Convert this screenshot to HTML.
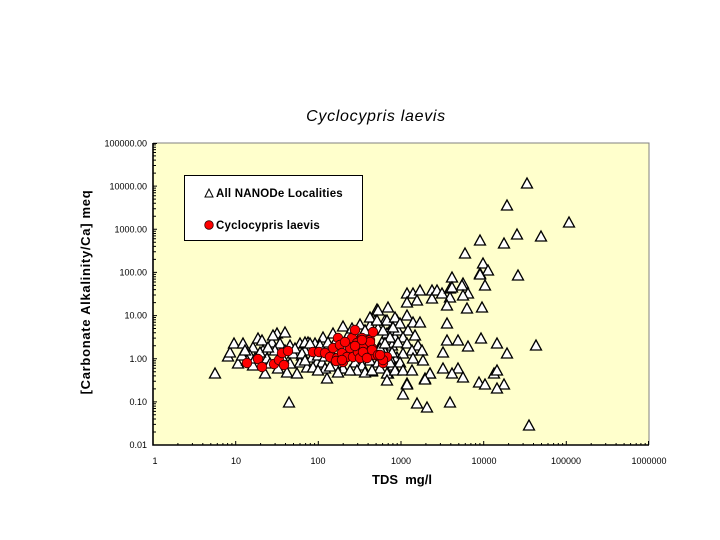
<!DOCTYPE html>
<html><head><meta charset="utf-8"><style>
html,body{margin:0;padding:0;background:#fff;}
svg{display:block;}
text{font-family:"Liberation Sans",Arial,sans-serif;}
</style></head><body>
<svg width="720" height="540" viewBox="0 0 720 540" xmlns="http://www.w3.org/2000/svg">
<defs>
<path id="t" d="M-5.5,5 L0,-5 L5.5,5 Z" fill="#fff" stroke="#000" stroke-width="1.3" stroke-linejoin="miter"/>
<circle id="c" r="4.8" fill="#ff0000" stroke="#300" stroke-width="0.8"/>
</defs>
<rect width="720" height="540" fill="#fff"/>
<text x="376" y="121" font-size="16" font-style="italic" text-anchor="middle" letter-spacing="0.7">Cyclocypris laevis</text>
<rect x="153" y="143" width="496" height="302" fill="#ffffcc"/>
<path d="M153,143 H649 V445" fill="none" stroke="#808080" stroke-width="1"/>
<path stroke="#000" stroke-width="1" fill="none" d="
M153,432h3M153,424.4h3M153,419h3M153,414.8h3M153,411.4h3M153,408.5h3M153,406.1h3M153,403.8h3
M153,388.9h3M153,381.3h3M153,375.9h3M153,371.7h3M153,368.3h3M153,365.4h3M153,363h3M153,360.7h3
M153,345.7h3M153,338.1h3M153,332.7h3M153,328.5h3M153,325.1h3M153,322.2h3M153,319.8h3M153,317.5h3
M153,302.6h3M153,295h3M153,289.6h3M153,285.4h3M153,282h3M153,279.1h3M153,276.7h3M153,274.4h3
M153,259.4h3M153,251.8h3M153,246.4h3M153,242.2h3M153,238.8h3M153,235.9h3M153,233.5h3M153,231.2h3
M153,216.3h3M153,208.7h3M153,203.3h3M153,199.1h3M153,195.7h3M153,192.8h3M153,190.4h3M153,188.1h3
M153,173.1h3M153,165.5h3M153,160.1h3M153,155.9h3M153,152.5h3M153,149.6h3M153,147.2h3M153,144.9h3
M153,401.9h4M153,358.7h4M153,315.6h4M153,272.4h4M153,229.3h4M153,186.1h4M153,143.5h4"/>
<path stroke="#000" stroke-width="1" fill="none" d="
M177.9,445v-2M192.4,445v-2M202.8,445v-2M210.8,445v-2M217.3,445v-2M222.9,445v-2M227.6,445v-2M231.9,445v-2
M260.6,445v-2M275.1,445v-2M285.5,445v-2M293.5,445v-2M300,445v-2M305.6,445v-2M310.3,445v-2M314.6,445v-2
M343.2,445v-2M357.7,445v-2M368.1,445v-2M376.1,445v-2M382.6,445v-2M388.2,445v-2M392.9,445v-2M397.2,445v-2
M425.9,445v-2M440.4,445v-2M450.8,445v-2M458.8,445v-2M465.3,445v-2M470.9,445v-2M475.6,445v-2M479.9,445v-2
M508.6,445v-2M523.1,445v-2M533.5,445v-2M541.5,445v-2M548,445v-2M553.6,445v-2M558.3,445v-2M562.6,445v-2
M591.2,445v-2M605.7,445v-2M616.1,445v-2M624.1,445v-2M630.6,445v-2M636.2,445v-2M640.9,445v-2M645.2,445v-2
M235.7,445v-4M318.3,445v-4M401,445v-4M483.7,445v-4M566.3,445v-4M648.5,445v-4"/>
<path d="M153,143 V445 H649" fill="none" stroke="#000" stroke-width="1.6"/>
<g font-size="9" text-anchor="end">
<text x="147" y="146.5">100000.00</text>
<text x="147" y="189.5">10000.00</text>
<text x="147" y="232.5">1000.00</text>
<text x="147" y="275.5">100.00</text>
<text x="147" y="318.5">10.00</text>
<text x="147" y="362">1.00</text>
<text x="147" y="405">0.10</text>
<text x="147" y="448">0.01</text>
</g>
<g font-size="9" text-anchor="middle">
<text x="155" y="464">1</text>
<text x="236" y="464">10</text>
<text x="318" y="464">100</text>
<text x="401" y="464">1000</text>
<text x="484" y="464">10000</text>
<text x="566" y="464">100000</text>
<text x="649" y="464">1000000</text>
</g>
<text x="402" y="484" font-size="13" font-weight="bold" text-anchor="middle" xml:space="preserve">TDS  mg/l</text>
<text transform="translate(90,292) rotate(-90)" font-size="13" font-weight="bold" text-anchor="middle" letter-spacing="0.7">[Carbonate Alkalinity/Ca] meq</text>
<g>
<use href="#t" x="215" y="373"/><use href="#t" x="289" y="402"/><use href="#t" x="228" y="356"/><use href="#t" x="230" y="352"/>
<use href="#t" x="234" y="343"/><use href="#t" x="243" y="343"/><use href="#t" x="238" y="363"/><use href="#t" x="253" y="347"/>
<use href="#t" x="258" y="338"/><use href="#t" x="262" y="340"/><use href="#t" x="250" y="355"/><use href="#t" x="247" y="360"/>
<use href="#t" x="253" y="365"/><use href="#t" x="265" y="373"/><use href="#t" x="263" y="350"/><use href="#t" x="267" y="358"/>
<use href="#t" x="272" y="342"/><use href="#t" x="277" y="333"/><use href="#t" x="285" y="332"/><use href="#t" x="273" y="335"/>
<use href="#t" x="280" y="343"/><use href="#t" x="285" y="350"/><use href="#t" x="290" y="345"/><use href="#t" x="293" y="353"/>
<use href="#t" x="300" y="343"/><use href="#t" x="302" y="355"/><use href="#t" x="300" y="362"/><use href="#t" x="287" y="372"/>
<use href="#t" x="297" y="373"/><use href="#t" x="307" y="367"/><use href="#t" x="312" y="357"/><use href="#t" x="308" y="342"/>
<use href="#t" x="315" y="343"/><use href="#t" x="317" y="362"/><use href="#t" x="270" y="363"/><use href="#t" x="290" y="363"/>
<use href="#t" x="255" y="358"/><use href="#t" x="242" y="355"/><use href="#t" x="327" y="378"/><use href="#t" x="343" y="368"/>
<use href="#t" x="260" y="352"/><use href="#t" x="275" y="350"/><use href="#t" x="283" y="358"/><use href="#t" x="295" y="348"/>
<use href="#t" x="278" y="368"/><use href="#t" x="245" y="350"/><use href="#t" x="268" y="347"/><use href="#t" x="305" y="350"/>
<use href="#t" x="372" y="371"/><use href="#t" x="343" y="326"/><use href="#t" x="377" y="309"/><use href="#t" x="388" y="307"/>
<use href="#t" x="375" y="320"/><use href="#t" x="385" y="320"/><use href="#t" x="397" y="320"/><use href="#t" x="378" y="328"/>
<use href="#t" x="390" y="330"/><use href="#t" x="323" y="337"/><use href="#t" x="305" y="342"/><use href="#t" x="310" y="343"/>
<use href="#t" x="333" y="333"/><use href="#t" x="365" y="330"/><use href="#t" x="302" y="353"/><use href="#t" x="305" y="360"/>
<use href="#t" x="313" y="367"/><use href="#t" x="322" y="362"/><use href="#t" x="325" y="368"/><use href="#t" x="343" y="368"/>
<use href="#t" x="388" y="373"/><use href="#t" x="393" y="365"/><use href="#t" x="397" y="357"/><use href="#t" x="392" y="345"/>
<use href="#t" x="395" y="337"/><use href="#t" x="387" y="333"/><use href="#t" x="382" y="342"/><use href="#t" x="385" y="352"/>
<use href="#t" x="390" y="358"/>
<use href="#t" x="320" y="345"/><use href="#t" x="330" y="350"/><use href="#t" x="335" y="342"/><use href="#t" x="345" y="345"/>
<use href="#t" x="350" y="355"/><use href="#t" x="355" y="362"/><use href="#t" x="360" y="350"/><use href="#t" x="365" y="345"/>
<use href="#t" x="358" y="340"/><use href="#t" x="348" y="335"/><use href="#t" x="370" y="360"/><use href="#t" x="378" y="362"/>
<use href="#t" x="362" y="365"/><use href="#t" x="335" y="365"/><use href="#t" x="318" y="355"/><use href="#t" x="325" y="356"/>
<use href="#t" x="340" y="357"/><use href="#t" x="352" y="348"/><use href="#t" x="368" y="352"/><use href="#t" x="380" y="348"/>
<use href="#t" x="357" y="370"/><use href="#t" x="350" y="370"/><use href="#t" x="365" y="372"/><use href="#t" x="330" y="366"/>
<use href="#t" x="338" y="372"/><use href="#t" x="318" y="370"/><use href="#t" x="380" y="368"/><use href="#t" x="352" y="328"/>
<use href="#t" x="360" y="324"/><use href="#t" x="370" y="325"/><use href="#t" x="328" y="342"/><use href="#t" x="398" y="330"/>
<use href="#t" x="407" y="293"/><use href="#t" x="413" y="293"/><use href="#t" x="420" y="290"/><use href="#t" x="432" y="290"/>
<use href="#t" x="417" y="300"/><use href="#t" x="432" y="298"/><use href="#t" x="407" y="302"/><use href="#t" x="378" y="310"/>
<use href="#t" x="370" y="317"/><use href="#t" x="377" y="320"/><use href="#t" x="387" y="320"/><use href="#t" x="395" y="317"/>
<use href="#t" x="407" y="315"/><use href="#t" x="413" y="322"/><use href="#t" x="420" y="322"/><use href="#t" x="400" y="323"/>
<use href="#t" x="365" y="330"/><use href="#t" x="393" y="327"/><use href="#t" x="383" y="330"/><use href="#t" x="408" y="330"/>
<use href="#t" x="415" y="335"/><use href="#t" x="403" y="337"/><use href="#t" x="390" y="337"/><use href="#t" x="398" y="342"/>
<use href="#t" x="407" y="343"/><use href="#t" x="418" y="345"/><use href="#t" x="385" y="343"/><use href="#t" x="412" y="350"/>
<use href="#t" x="422" y="350"/><use href="#t" x="403" y="353"/><use href="#t" x="392" y="352"/><use href="#t" x="413" y="358"/>
<use href="#t" x="400" y="362"/><use href="#t" x="390" y="362"/><use href="#t" x="423" y="360"/><use href="#t" x="372" y="370"/>
<use href="#t" x="387" y="373"/><use href="#t" x="395" y="370"/><use href="#t" x="403" y="370"/><use href="#t" x="412" y="370"/>
<use href="#t" x="425" y="378"/><use href="#t" x="430" y="373"/><use href="#t" x="407" y="383"/><use href="#t" x="387" y="380"/>
<use href="#t" x="483" y="263"/><use href="#t" x="480" y="273"/><use href="#t" x="488" y="270"/><use href="#t" x="518" y="275"/>
<use href="#t" x="452" y="277"/><use href="#t" x="463" y="283"/><use href="#t" x="485" y="285"/><use href="#t" x="437" y="290"/>
<use href="#t" x="442" y="293"/><use href="#t" x="450" y="288"/><use href="#t" x="450" y="297"/><use href="#t" x="462" y="285"/>
<use href="#t" x="468" y="293"/><use href="#t" x="447" y="305"/><use href="#t" x="467" y="308"/><use href="#t" x="482" y="307"/>
<use href="#t" x="447" y="323"/><use href="#t" x="447" y="340"/><use href="#t" x="458" y="340"/><use href="#t" x="468" y="346"/>
<use href="#t" x="481" y="338"/><use href="#t" x="497" y="343"/><use href="#t" x="507" y="353"/><use href="#t" x="443" y="352"/>
<use href="#t" x="443" y="368"/><use href="#t" x="458" y="368"/><use href="#t" x="452" y="373"/><use href="#t" x="463" y="377"/>
<use href="#t" x="430" y="373"/><use href="#t" x="425" y="379"/><use href="#t" x="407" y="384"/><use href="#t" x="403" y="394"/>
<use href="#t" x="417" y="403"/><use href="#t" x="427" y="407"/><use href="#t" x="450" y="402"/><use href="#t" x="479" y="382"/>
<use href="#t" x="485" y="384"/><use href="#t" x="494" y="373"/><use href="#t" x="497" y="370"/><use href="#t" x="504" y="384"/>
<use href="#t" x="497" y="388"/><use href="#t" x="536" y="345"/><use href="#t" x="529" y="425"/>
<use href="#t" x="527" y="183"/><use href="#t" x="507" y="205"/><use href="#t" x="569" y="222"/><use href="#t" x="517" y="234"/>
<use href="#t" x="541" y="236"/><use href="#t" x="480" y="240"/><use href="#t" x="504" y="243"/><use href="#t" x="465" y="253"/>
<use href="#t" x="480" y="274"/><use href="#t" x="452" y="287"/><use href="#t" x="463" y="295"/>
</g>
<g>
<use href="#c" x="247" y="363"/><use href="#c" x="258" y="359"/><use href="#c" x="262" y="367"/><use href="#c" x="274" y="364"/>
<use href="#c" x="279" y="360"/><use href="#c" x="284" y="365"/><use href="#c" x="282" y="353"/><use href="#c" x="288" y="351"/>
<use href="#c" x="313" y="352"/><use href="#c" x="319" y="352"/><use href="#c" x="325" y="353"/><use href="#c" x="330" y="357"/>
<use href="#c" x="333" y="348"/><use href="#c" x="337" y="358"/><use href="#c" x="338" y="338"/><use href="#c" x="340" y="345"/>
<use href="#c" x="342" y="353"/><use href="#c" x="343" y="362"/><use href="#c" x="347" y="357"/><use href="#c" x="350" y="348"/>
<use href="#c" x="352" y="338"/><use href="#c" x="355" y="330"/><use href="#c" x="353" y="357"/><use href="#c" x="357" y="343"/>
<use href="#c" x="358" y="352"/><use href="#c" x="360" y="358"/><use href="#c" x="362" y="338"/><use href="#c" x="363" y="348"/>
<use href="#c" x="367" y="357"/><use href="#c" x="370" y="340"/><use href="#c" x="372" y="348"/><use href="#c" x="373" y="332"/>
<use href="#c" x="375" y="355"/><use href="#c" x="380" y="357"/><use href="#c" x="383" y="363"/><use href="#c" x="387" y="357"/>
<use href="#c" x="370" y="342"/><use href="#c" x="362" y="340"/><use href="#c" x="372" y="350"/><use href="#c" x="363" y="352"/>
<use href="#c" x="378" y="355"/><use href="#c" x="383" y="360"/><use href="#c" x="367" y="358"/><use href="#c" x="336" y="361"/>
<use href="#c" x="342" y="360"/><use href="#c" x="380" y="355"/><use href="#c" x="345" y="342"/><use href="#c" x="355" y="346"/>
</g>
<rect x="184.5" y="175.5" width="178" height="65" fill="#fff" stroke="#000" stroke-width="1"/>
<path d="M205,197 L209,189 L213,197 Z" fill="#fff" stroke="#000" stroke-width="1"/>
<circle cx="209" cy="225" r="4.3" fill="#ff0000" stroke="#300" stroke-width="0.8"/>
<text x="216" y="197" font-size="11.5" font-weight="bold" letter-spacing="0.2">All NANODe Localities</text>
<text x="216" y="229" font-size="11.5" font-weight="bold" letter-spacing="0.2">Cyclocypris laevis</text>
</svg>
</body></html>
